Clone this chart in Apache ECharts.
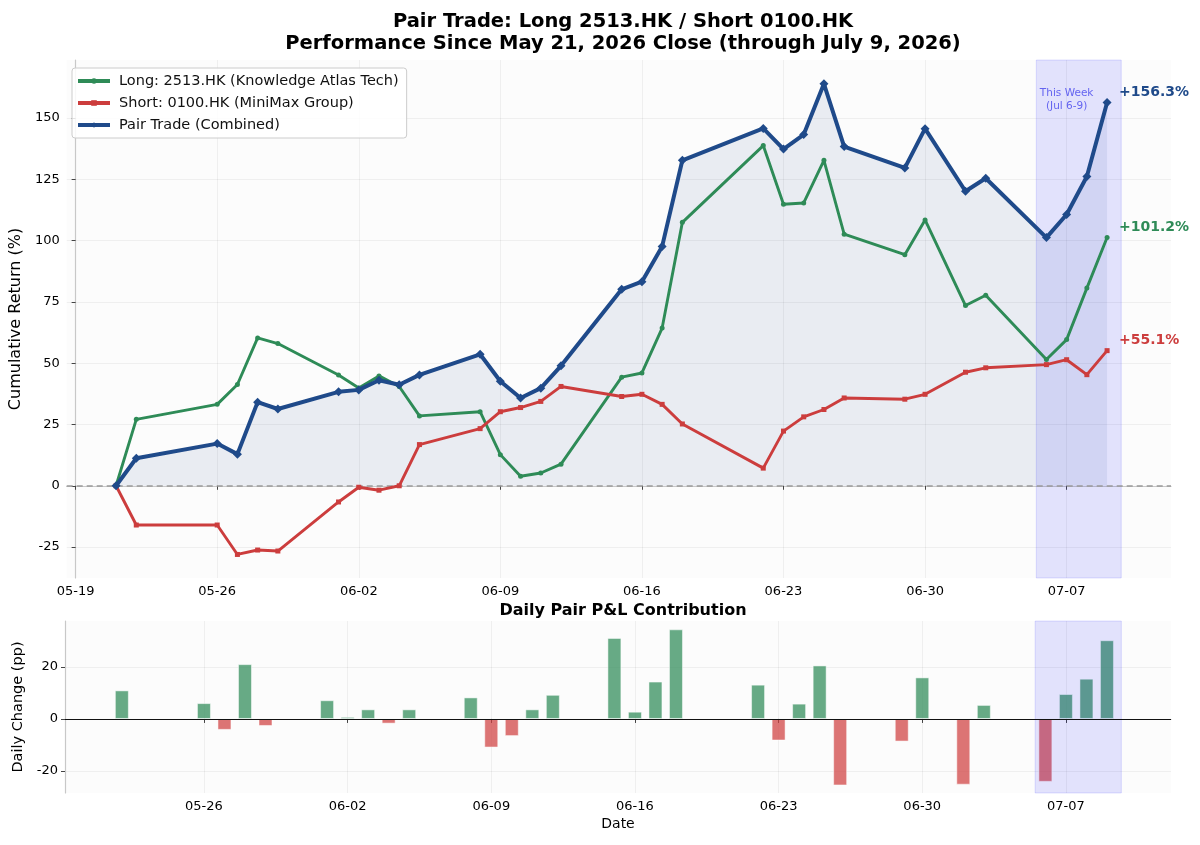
<!DOCTYPE html>
<html>
<head>
<meta charset="utf-8">
<script src="https://cdn.jsdelivr.net/npm/echarts@6/dist/echarts.min.js"></script>
<style>
html, body { margin: 0; padding: 0; background: #fff; }
#chart { width: 1200px; height: 845px; }
</style>
</head>
<body>
<div id="chart"></div>
<script>
// trading days since the entry close
var dates = ['2026-05-21','2026-05-22','2026-05-26','2026-05-27','2026-05-28','2026-05-29',
    '2026-06-01','2026-06-02','2026-06-03','2026-06-04','2026-06-05',
    '2026-06-08','2026-06-09','2026-06-10','2026-06-11','2026-06-12',
    '2026-06-15','2026-06-16','2026-06-17','2026-06-18',
    '2026-06-22','2026-06-23','2026-06-24','2026-06-25','2026-06-26',
    '2026-06-29','2026-06-30','2026-07-02','2026-07-03',
    '2026-07-06','2026-07-07','2026-07-08','2026-07-09'];

// cumulative returns (%)
var longRet = [0, 27.1, 33.2, 41.3, 60.3, 58.0, 45.2, 39.9, 44.8, 40.5, 28.5,
    30.2, 12.7, 3.9, 5.2, 8.8, 44.3, 46.0, 64.3, 107.4,
    138.7, 114.8, 115.3, 132.7, 102.6, 94.2, 108.4, 73.5, 77.7,
    51.5, 59.6, 80.6, 101.2];
var shortRet = [0, -16.0, -16.0, -28.0, -26.2, -26.6, -6.6, -0.6, -1.8, 0.0, 16.8,
    23.3, 30.2, 31.9, 34.4, 40.5, 36.4, 37.3, 33.2, 25.2,
    7.2, 22.3, 28.1, 31.1, 35.8, 35.3, 37.3, 46.3, 48.1,
    49.4, 51.4, 45.3, 55.1];
var pairRet = [0, 11.2, 17.2, 12.9, 34.1, 31.3, 38.3, 39.1, 43.0, 41.2, 45.2,
    53.6, 42.6, 35.8, 39.8, 48.9, 80.1, 83.2, 97.6, 132.7,
    145.7, 137.3, 143.2, 163.9, 138.3, 129.6, 145.6, 120.1, 125.4,
    101.2, 110.6, 126.1, 156.3];

// daily pair P&L (pp), from the second trading day on
var dailyDates = dates.slice(1);
var dailyPnl = [11.0, 6.1, -4.2, 21.1, -2.7, 7.2, 0.8, 3.7, -1.8, 3.7,
    8.3, -11.0, -6.6, 3.7, 9.3, 31.2, 2.8, 14.4, 34.5,
    13.2, -8.3, 5.9, 20.6, -25.6, -8.7, 16.0, -25.3, 5.4,
    -24.2, 9.6, 15.5, 30.3];

var xTickDates = ['2026-05-19','2026-05-26','2026-06-02','2026-06-09','2026-06-16','2026-06-23','2026-06-30','2026-07-07'];
var yTicksTop = [-25, 0, 25, 50, 75, 100, 125, 150];
var yTicksBottom = [-20, 0, 20];

var weekStart = '2026-07-05', weekEnd = '2026-07-09';

var FONT = 'DejaVu Sans';
var C_LONG = '#2e8b57', C_SHORT = '#cc3d3d', C_PAIR = '#1f4a8a';

// day number counted from 05-19
var base = Date.UTC(2026, 4, 19);
function dayNum(s) {
    var p = s.split('-');
    return (Date.UTC(+p[0], +p[1] - 1, +p[2]) - base) / 86400000;
}
function fmtDay(v) {
    var d = new Date(base + Math.round(v) * 86400000);
    var m = d.getUTCMonth() + 1, dd = d.getUTCDate();
    return (m < 10 ? '0' : '') + m + '-' + (dd < 10 ? '0' : '') + dd;
}
function pts(xs, ys) {
    var out = [];
    for (var i = 0; i < xs.length; i++) out.push([dayNum(xs[i]), ys[i]]);
    return out;
}
var xTicks = xTickDates.map(dayNum);

var myChart = echarts.init(document.getElementById('chart'));

function xAxisOpt(idx, min, max, name) {
    return {
        type: 'value', gridIndex: idx, min: min, max: max,
        name: name, nameLocation: 'middle', nameGap: 24,
        nameTextStyle: { fontFamily: FONT, fontSize: 14, color: '#000' },
        axisLine: { lineStyle: { color: '#c8c8c8', width: 1.2 } },
        axisTick: { show: true, length: 4, lineStyle: { color: '#444' }, customValues: xTicks },
        axisLabel: { customValues: xTicks, formatter: fmtDay, fontFamily: FONT, fontSize: 13, color: '#000', margin: 7 },
        splitLine: { show: true, lineStyle: { color: 'rgba(0,0,0,0.05)', width: 1 } }
    };
}
function yAxisOpt(idx, min, max, ticks, name, gap, nameSize) {
    return {
        type: 'value', gridIndex: idx, min: min, max: max,
        name: name, nameLocation: 'middle', nameGap: gap,
        nameTextStyle: { fontFamily: FONT, fontSize: nameSize, color: '#000' },
        axisLine: { show: true, lineStyle: { color: '#c8c8c8', width: 1.2 } },
        axisTick: { show: true, length: 4, lineStyle: { color: '#444' }, customValues: ticks },
        axisLabel: { customValues: ticks, fontFamily: FONT, fontSize: 13, color: '#000', margin: 7 },
        splitLine: { show: true, lineStyle: { color: 'rgba(0,0,0,0.05)', width: 1 } }
    };
}

function endLbl(color) {
    return {
        show: true, distance: 5, offset: [7, -10],
        formatter: function (p) { return '+' + p.value[1].toFixed(1) + '%'; },
        fontFamily: FONT, fontSize: 14, fontWeight: 'bold', color: color
    };
}

var option = {
    animation: false,
    backgroundColor: '#ffffff',
    title: [
        {
            text: 'Pair Trade: Long 2513.HK / Short 0100.HK\nPerformance Since May 21, 2026 Close (through July 9, 2026)',
            left: 618, top: 6, textAlign: 'center',
            textStyle: { fontFamily: FONT, fontSize: 19.5, fontWeight: 'bold', color: '#000', lineHeight: 22 }
        },
        {
            text: 'Daily Pair P&L Contribution',
            left: 618, top: 597, textAlign: 'center',
            textStyle: { fontFamily: FONT, fontSize: 16, fontWeight: 'bold', color: '#000', lineHeight: 18 }
        }
    ],
    legend: {
        data: ['Long: 2513.HK (Knowledge Atlas Tech)', 'Short: 0100.HK (MiniMax Group)', 'Pair Trade (Combined)'],
        orient: 'vertical', left: 72, top: 68,
        padding: [5, 8, 5, 4], itemGap: 6, itemWidth: 32, itemHeight: 7,
        lineStyle: { width: 4 },
        backgroundColor: 'rgba(255,255,255,0.85)', borderColor: '#cccccc', borderWidth: 1, borderRadius: 3,
        textStyle: { fontFamily: FONT, fontSize: 14.5, lineHeight: 16, color: '#111', padding: [0, 0, 0, 4] }
    },
    grid: [
        { left: 65, right: 29, top: 60, height: 518, show: true, backgroundColor: '#fcfcfc', borderWidth: 0 },
        { left: 65, right: 29, top: 621, height: 172, show: true, backgroundColor: '#fcfcfc', borderWidth: 0 }
    ],
    xAxis: [
        xAxisOpt(0, -0.44, 54.16, ''),
        xAxisOpt(1, 0.23, 54.12, 'Date')
    ],
    yAxis: [
        yAxisOpt(0, -37.6, 173.6, yTicksTop, 'Cumulative Return (%)', 38, 16),
        yAxisOpt(1, -28.5, 37.7, yTicksBottom, 'Daily Change (pp)', 34, 14.5)
    ],
    series: [
        {
            // shaded area under the pair line
            name: 'fill', type: 'line', xAxisIndex: 0, yAxisIndex: 0, z: 1,
            data: pts(dates, pairRet), symbol: 'none', silent: true,
            lineStyle: { width: 0, opacity: 0 },
            areaStyle: { color: 'rgba(31,74,138,0.12)', origin: 0 },
            markArea: {
                z: 2, silent: true,
                itemStyle: { color: 'rgba(0,0,255,0.1)', borderColor: 'rgba(0,0,255,0.12)', borderWidth: 1 },
                data: [[{ xAxis: dayNum(weekStart) + 0.5 }, { xAxis: dayNum(weekEnd) + 0.7 }]]
            },
            markLine: {
                silent: true, symbol: 'none', z: 2,
                lineStyle: { color: '#999', type: [6, 4], width: 1.5 },
                label: { show: false },
                data: [{ yAxis: 0 }]
            },
            markPoint: {
                silent: true, symbol: 'circle', symbolSize: 1,
                itemStyle: { color: 'rgba(0,0,0,0)' },
                label: {
                    show: true, position: 'inside', formatter: 'This Week\n(Jul 6-9)',
                    fontFamily: FONT, fontSize: 10.5, lineHeight: 13, color: '#6464f0'
                },
                data: [{ coord: [dayNum('2026-07-07'), 157.3] }]
            }
        },
        {
            name: 'Long: 2513.HK (Knowledge Atlas Tech)', type: 'line', xAxisIndex: 0, yAxisIndex: 0, z: 3,
            data: pts(dates, longRet), color: C_LONG,
            symbol: 'circle', symbolSize: 5, showAllSymbol: true,
            lineStyle: { width: 2.9 },
            endLabel: endLbl(C_LONG)
        },
        {
            name: 'Short: 0100.HK (MiniMax Group)', type: 'line', xAxisIndex: 0, yAxisIndex: 0, z: 3,
            data: pts(dates, shortRet), color: C_SHORT,
            symbol: 'rect', symbolSize: 5, showAllSymbol: true,
            lineStyle: { width: 2.9 },
            endLabel: endLbl(C_SHORT)
        },
        {
            name: 'Pair Trade (Combined)', type: 'line', xAxisIndex: 0, yAxisIndex: 0, z: 4,
            data: pts(dates, pairRet), color: C_PAIR,
            symbol: 'diamond', symbolSize: 9, showAllSymbol: true,
            lineStyle: { width: 4 },
            endLabel: endLbl(C_PAIR)
        },
        {
            name: 'Daily', type: 'bar', xAxisIndex: 1, yAxisIndex: 1, z: 2,
            data: pts(dailyDates, dailyPnl), barWidth: 14,
            itemStyle: {
                color: function (p) { return p.value[1] >= 0 ? 'rgba(46,139,87,0.72)' : 'rgba(208,64,64,0.72)'; },
                borderColor: 'rgba(255,255,255,0.5)', borderWidth: 1
            },
            markArea: {
                z: 5, silent: true,
                itemStyle: { color: 'rgba(0,0,255,0.1)', borderColor: 'rgba(0,0,255,0.12)', borderWidth: 1 },
                data: [[{ xAxis: dayNum(weekStart) + 0.5 }, { xAxis: dayNum(weekEnd) + 0.7 }]]
            },
            markLine: {
                silent: true, symbol: 'none',
                lineStyle: { color: '#111', type: 'solid', width: 1.2 },
                label: { show: false },
                data: [{ yAxis: 0 }]
            }
        }
    ]
};

myChart.setOption(option);
</script>
</body>
</html>
